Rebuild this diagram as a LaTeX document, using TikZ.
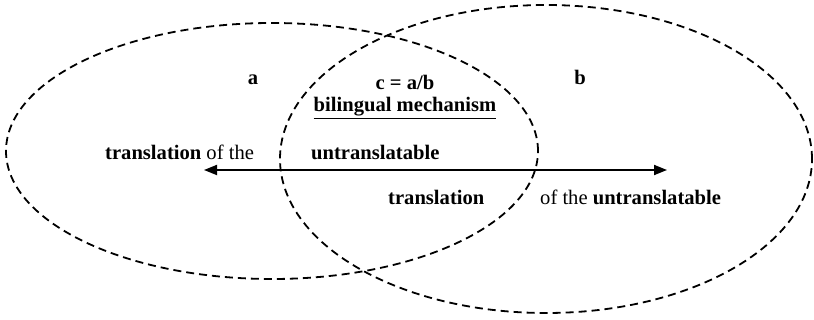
\documentclass[tikz,border=0pt]{standalone}
\usepackage{fontspec}
\setmainfont{Liberation Serif}
\usetikzlibrary{shapes.geometric,arrows.meta}
\begin{document}
\begin{tikzpicture}[x=1pt,y=-1pt,
  venn/.style={ellipse, draw, dash pattern=on 8pt off 5pt, line width=1.8pt, inner sep=0pt},
  lbl/.style={font=\fontsize{20.6}{24}\selectfont, inner sep=0pt, anchor=base west},
  lblc/.style={font=\fontsize{20.6}{24}\selectfont\bfseries, inner sep=0pt, anchor=base},
  dbl/.style={line width=1.8pt, {Triangle[length=13pt,width=10pt]}-{Triangle[length=13pt,width=10pt]}}]
\useasboundingbox (0,0) rectangle (814,320);
\node[venn, minimum width=532pt, minimum height=256pt] (A) at (272,151) {};
\node[venn, minimum width=532pt, minimum height=308pt] (B) at (546,159) {};
\coordinate (L) at (204,170);
\coordinate (R) at (667,170);
\draw[dbl] (L) -- (R);
\node[lblc] (la) at (253,85) {a};
\node[lblc] (lb) at (580,85) {b};
\node[lblc] (lc) at (405,90) {c = a/b};
\node[lblc] (lm) at (405,112) {\underline{bilingual mechanism}};
\node[lbl] (t1) at (105,160) {\textbf{translation} of the};
\node[lbl] (t2) at (311,160) {\textbf{untranslatable}};
\node[lbl] (t3) at (388,205) {\textbf{translation}};
\node[lbl] (t4) at (540,205) {of the \textbf{untranslatable}};
\end{tikzpicture}
\end{document}
